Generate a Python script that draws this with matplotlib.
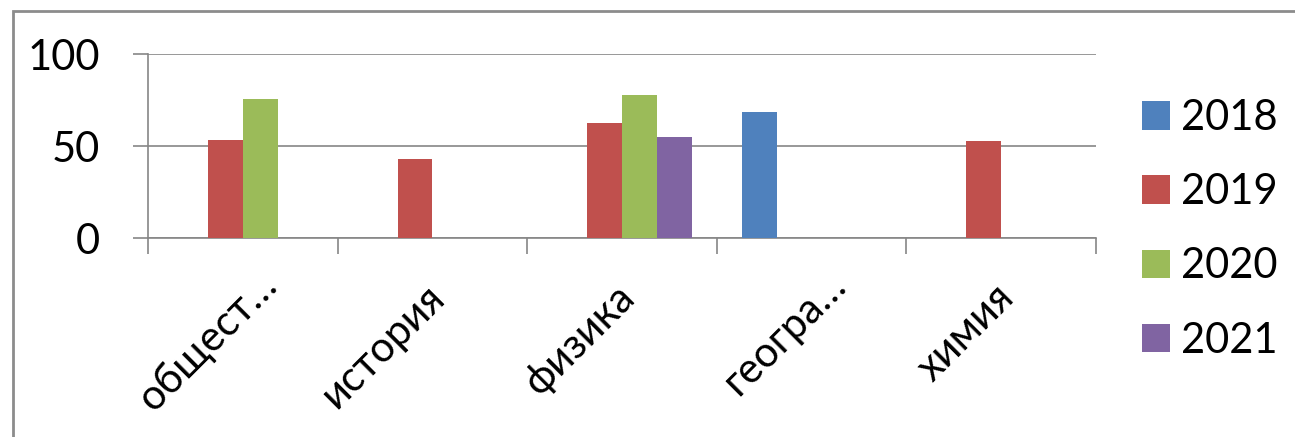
import numpy as np
import matplotlib
matplotlib.use('agg')
import matplotlib.pyplot as plt
import matplotlib.transforms as mtransforms
from matplotlib.patches import Rectangle

plt.rcParams['font.family'] = ['Lato', 'DejaVu Sans']

# data
subjects = ['общест…', 'история', 'физика', 'геогра…', 'химия']
years = ['2018', '2019', '2020', '2021']
v2018 = [0, 0, 0, 68.6, 0]
v2019 = [53.3, 42.8, 62.3, 0, 52.5]
v2020 = [75.5, 0, 77.7, 0, 0]
v2021 = [0, 0, 54.7, 0, 0]
series = [v2018, v2019, v2020, v2021]
colors = ['#4F81BD', '#C0504D', '#9BBB59', '#8064A2']

W, H = 1295, 437
fig = plt.figure(figsize=(W / 100, H / 100), dpi=100)
ax = fig.add_axes([148 / W, 1 - 238 / H, (1096 - 148) / W, (238 - 54) / H])

grid_col = '#868686'
x = np.arange(len(subjects))
bw = 0.184
for i, (vals, c) in enumerate(zip(series, colors)):
    ax.bar(x + (i - 1.5) * bw, vals, width=bw, color=c, label=years[i],
           zorder=3, linewidth=0)

ax.set_xlim(-0.5, len(subjects) - 0.5)
ax.set_ylim(0, 100)
ax.set_yticks([0, 50, 100])
ax.yaxis.grid(True, color=grid_col, linewidth=1.2, zorder=0)
ax.tick_params(axis='y', length=10.8, width=1.2, color=grid_col, pad=24,
               labelsize=30)
for s in ['top', 'right']:
    ax.spines[s].set_visible(False)
for s in ['left', 'bottom']:
    ax.spines[s].set_color(grid_col)
    ax.spines[s].set_linewidth(1.2)

# category boundary ticks
ax.set_xticks(x)
ax.set_xticklabels([])
ax.tick_params(axis='x', which='major', length=0)
ax.set_xticks(np.arange(len(subjects) + 1) - 0.5, minor=True)
ax.tick_params(axis='x', which='minor', length=11.5, width=1.2, color=grid_col)

# rotated category labels
for xi, lab in zip(x, subjects):
    if lab.endswith('…'):
        dx, dy = 28, -41
    else:
        dx, dy = 6, -53
    tr = ax.get_xaxis_transform() + mtransforms.ScaledTranslation(
        dx / 100, dy / 100, fig.dpi_scale_trans)
    ax.text(xi, 0, lab, transform=tr, rotation=45, ha='right', va='center',
            rotation_mode='anchor', fontsize=30)

leg = fig.legend(loc='upper left', bbox_to_anchor=(1142 / W, 1 - 99 / H),
                 frameon=False, fontsize=30, handlelength=0.67,
                 handleheight=0.67, handletextpad=0.26, labelspacing=0.87,
                 borderpad=0, borderaxespad=0)

# outer chart border
fig.patches.append(Rectangle((13 / W, -0.2), 1.2, 1.2 - 11 / H,
                             transform=fig.transFigure, fill=False,
                             edgecolor='#8c8c8c', linewidth=2))

fig.savefig('out.png', dpi=100)
